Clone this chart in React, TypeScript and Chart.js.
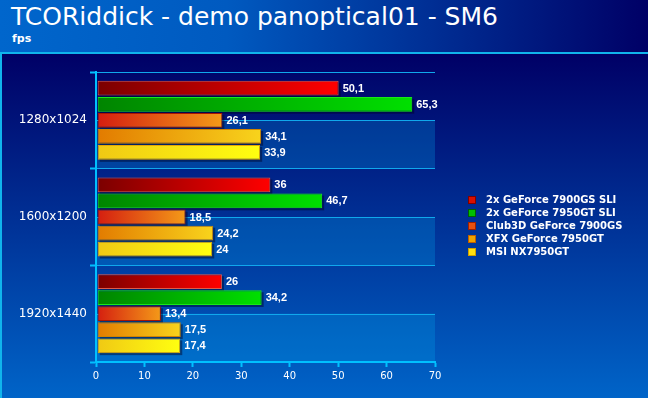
import React, { useEffect, useRef } from "react";
import { Chart, registerables } from "chart.js";

Chart.register(...registerables);

// ---- data ----
const categories = ["1280x1024", "1600x1200", "1920x1440"];
const seriesNames = [
  "2x GeForce 7900GS SLI",
  "2x GeForce 7950GT SLI",
  "Club3D GeForce 7900GS",
  "XFX GeForce 7950GT",
  "MSI NX7950GT",
];
const sli7900gs = [50.1, 36, 26];
const sli7950gt = [65.3, 46.7, 34.2];
const club3d7900gs = [26.1, 18.5, 13.4];
const xfx7950gt = [34.1, 24.2, 17.5];
const msiNx7950gt = [33.9, 24, 17.4];
const xMin = 0;
const xMax = 70;
const xStep = 10;

const seriesValues = [sli7900gs, sli7950gt, club3d7900gs, xfx7950gt, msiNx7950gt];

// ---- styles ----
const gradStart = ["#7a0000", "#008400", "#d41c10", "#e27a00", "#f0c814"];
const gradEnd = ["#ff0000", "#00e000", "#f49a18", "#f8d41c", "#ffff10"];
const borderCols = ["#e05a48", "#18e818", "#a81400", "#d08400", "#e8a800"];
const legendFill = ["#d81000", "#00c000", "#e85010", "#f0a400", "#ffe010"];
const legendBorder = ["#800000", "#006000", "#a02000", "#c06000", "#d0a000"];

const fmt = (v: number) => String(v).replace(".", ",");

function barGradient(c: any, i: number) {
  const chart = c.chart;
  const xs = chart.scales && chart.scales.x;
  if (c.type !== "data" || !xs || typeof c.raw !== "number") return gradEnd[i];
  const x0 = xs.getPixelForValue(0);
  const x1 = xs.getPixelForValue(c.raw);
  if (!isFinite(x0) || !isFinite(x1) || x1 <= x0) return gradEnd[i];
  const g = chart.ctx.createLinearGradient(x0, 0, x1, 0);
  g.addColorStop(0, gradStart[i]);
  g.addColorStop(1, gradEnd[i]);
  return g;
}

const bandPlugin = {
  id: "bands",
  beforeDraw(chart: any) {
    const { ctx, chartArea, scales } = chart;
    const y = scales.y;
    ctx.save();
    for (let i = 0; i < categories.length; i++) {
      const c = y.getPixelForValue(i);
      const b = y.getPixelForValue(i + 0.5);
      ctx.fillStyle = "rgba(0,170,240,0.25)";
      ctx.fillRect(chartArea.left, c, chartArea.right - chartArea.left, b - c);
      ctx.strokeStyle = "#10a8ec";
      ctx.lineWidth = 1;
      ctx.beginPath();
      ctx.moveTo(chartArea.left, Math.round(c) + 0.5);
      ctx.lineTo(chartArea.right, Math.round(c) + 0.5);
      ctx.stroke();
    }
    ctx.restore();
  },
};

const shadowPlugin = {
  id: "barShadow",
  beforeDatasetsDraw(chart: any) {
    const ctx = chart.ctx;
    ctx.save();
    ctx.fillStyle = "rgba(0,0,30,0.45)";
    chart.data.datasets.forEach((_: any, di: number) => {
      chart.getDatasetMeta(di).data.forEach((el: any) => {
        const p = el.getProps(["x", "y", "base", "height"], true);
        ctx.fillRect(p.base + 2, p.y - p.height / 2 + 2, p.x - p.base, p.height);
      });
    });
    ctx.restore();
  },
};

const labelPlugin = {
  id: "valueLabels",
  afterDatasetsDraw(chart: any) {
    const ctx = chart.ctx;
    ctx.save();
    ctx.font = "bold 11px 'Liberation Sans', Arial, sans-serif";
    ctx.fillStyle = "#ffffff";
    ctx.textAlign = "left";
    ctx.textBaseline = "middle";
    chart.data.datasets.forEach((ds: any, di: number) => {
      chart.getDatasetMeta(di).data.forEach((el: any, j: number) => {
        const p = el.getProps(["x", "y"], true);
        ctx.fillText(fmt(ds.data[j]), p.x + 4, p.y + 0.5);
      });
    });
    ctx.restore();
  },
};

const legendPlugin = {
  id: "sideLegend",
  afterDraw(chart: any) {
    const ctx = chart.ctx;
    ctx.save();
    ctx.font = "bold 10px 'DejaVu Sans', Verdana, sans-serif";
    ctx.textBaseline = "middle";
    ctx.textAlign = "left";
    chart.data.datasets.forEach((ds: any, i: number) => {
      const cy = 200 + 13 * i;
      ctx.fillStyle = legendBorder[i];
      ctx.fillRect(468, cy - 4, 8, 8);
      ctx.fillStyle = legendFill[i];
      ctx.fillRect(469, cy - 3, 6, 6);
      ctx.fillStyle = "#ffffff";
      ctx.fillText(ds.label, 486, cy + 0.5);
    });
    ctx.restore();
  },
};

export default function App() {
  const ref = useRef<HTMLCanvasElement>(null);

  useEffect(() => {
    const chart = new Chart(ref.current as HTMLCanvasElement, {
      type: "bar",
      data: {
        labels: categories,
        datasets: seriesValues.map((vals, i) => ({
          label: seriesNames[i],
          data: vals,
          backgroundColor: (c: any) => barGradient(c, i),
          borderColor: borderCols[i],
          borderWidth: 1,
          borderSkipped: false,
          base: 0.35,
          categoryPercentage: 0.83,
          barPercentage: 0.92,
        })),
      },
      options: {
        indexAxis: "y",
        responsive: false,
        animation: false,
        layout: { padding: { top: 72, right: 213, left: 0, bottom: 0 } },
        plugins: {
          legend: { display: false },
          tooltip: { enabled: false },
          title: { display: false },
        },
        scales: {
          x: {
            min: xMin,
            max: xMax,
            ticks: {
              stepSize: xStep,
              color: "#ffffff",
              font: { family: "'DejaVu Sans', Verdana, sans-serif", size: 10 },
              padding: 3,
            },
            grid: {
              drawOnChartArea: false,
              drawTicks: true,
              tickLength: 5,
              tickWidth: 2,
              tickColor: "#00c0ff",
            },
            border: { color: "#00c0ff", width: 2 },
            afterFit: (s: any) => {
              s.height = 36;
            },
          },
          y: {
            ticks: {
              color: "#ffffff",
              font: { family: "'DejaVu Sans', Verdana, sans-serif", size: 12 },
              padding: 3,
            },
            grid: {
              offset: true,
              color: "#10a8ec",
              lineWidth: 1,
              drawTicks: true,
              tickLength: 6,
              tickWidth: 2,
              tickColor: "#00c0ff",
            },
            border: { color: "#00c0ff", width: 2 },
            afterFit: (s: any) => {
              s.width = 96;
            },
          },
        },
      } as any,
      plugins: [bandPlugin, shadowPlugin, labelPlugin, legendPlugin],
    });
    return () => chart.destroy();
  }, []);

  return (
    <div
      style={{
        position: "absolute",
        left: 0,
        top: 0,
        width: 648,
        height: 398,
        overflow: "hidden",
        fontFamily: "'DejaVu Sans', Verdana, sans-serif",
        color: "#ffffff",
      }}
    >
      <div
        style={{
          position: "absolute",
          left: 0,
          top: 0,
          width: 648,
          height: 52,
          background: "linear-gradient(to right, #0066cc 0%, #005ac0 35%, #000066 100%)",
        }}
      />
      <div
        style={{
          position: "absolute",
          left: 0,
          top: 52,
          width: 648,
          height: 2,
          background: "#10b4ec",
        }}
      />
      <div
        style={{
          position: "absolute",
          left: 0,
          top: 54,
          width: 648,
          height: 344,
          background: "linear-gradient(to bottom, #000066 0%, #0064c8 100%)",
          borderLeft: "2px solid #10b4ec",
          boxSizing: "border-box",
        }}
      />
      <div
        style={{
          position: "absolute",
          left: 11,
          top: 2,
          fontSize: 25,
          lineHeight: "30px",
          whiteSpace: "nowrap",
        }}
      >
        TCORiddick - demo panoptical01 - SM6
      </div>
      <div
        style={{
          position: "absolute",
          left: 12,
          top: 33,
          fontSize: 11,
          fontWeight: "bold",
          lineHeight: "12px",
        }}
      >
        fps
      </div>
      <canvas
        ref={ref}
        width={648}
        height={398}
        style={{ position: "absolute", left: 0, top: 0, display: "block" }}
      />
    </div>
  );
}
